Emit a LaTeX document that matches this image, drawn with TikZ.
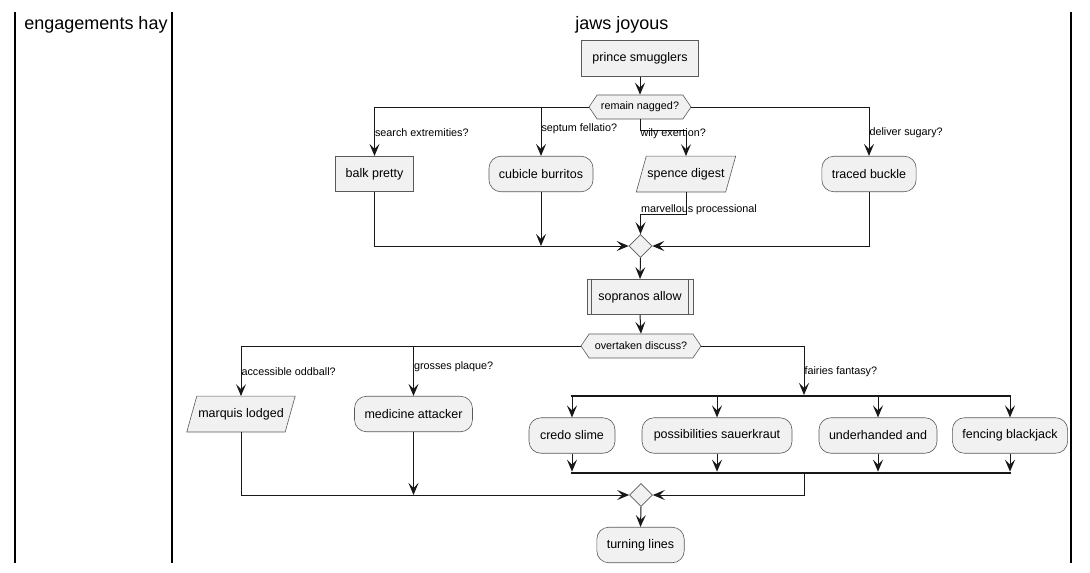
\documentclass[tikz,border=0pt]{standalone}
\usepackage{fontspec}
\setmainfont{Liberation Sans}
\usetikzlibrary{arrows.meta,shapes.geometric,shapes.symbols}
\definecolor{boxfill}{HTML}{F1F1F1}
\definecolor{ink}{HTML}{181818}
\definecolor{edge}{HTML}{5A5A5A}
\pgfdeclarelayer{background}
\pgfsetlayers{background,main}
\begin{document}
\begin{tikzpicture}[x=1pt,y=-1pt,
  every node/.style={font=\fontsize{12.5}{14}\selectfont, text=black},
  outline/.style={draw=edge, line width=0.6pt, fill=boxfill},
  base/.style={outline, minimum height=35.5pt, inner xsep=10pt, inner ysep=0pt},
  actbox/.style={base, rectangle},
  roundbox/.style={base, rectangle, rounded corners=12pt},
  iobox/.style={rectangle, minimum height=35.5pt, inner xsep=10pt, inner ysep=0pt},
  hexbox/.style={signal, signal to=west and east, signal pointer angle=112, outline,
     font=\fontsize{10.8}{12}\selectfont, minimum height=24pt, inner xsep=2pt, inner ysep=0pt},
  mergebox/.style={diamond, outline, minimum width=23pt, minimum height=23pt, inner sep=0pt},
  barbox/.style={fill=ink, inner sep=0pt, minimum height=2.2pt},
  lbl/.style={font=\fontsize{10.8}{12}\selectfont, anchor=west, inner sep=0pt},
  flow/.style={draw=ink, line width=1pt, -{Stealth[length=12pt,width=10pt,inset=5pt]}},
  lane/.style={draw=black, line width=1.6pt},
  lanetitle/.style={font=\fontsize{18}{20}\selectfont}
]
\useasboundingbox (0,0) rectangle (1090,573);

% swimlanes
\draw[lane] (15,12) -- (15,563);
\draw[lane] (172,12) -- (172,563);
\draw[lane] (1071,12) -- (1071,563);
\node[lanetitle] (t1) at (96,25) {engagements hay};
\node[lanetitle] (t2) at (622,25) {jaws joyous};

% nodes
\node[actbox, minimum width=117pt] (prince) at (640,58.5) {prince smugglers};
\node[hexbox, minimum width=102pt] (q1) at (640,107) {remain nagged?};
\node[actbox, minimum width=75pt] (balk) at (374.5,174) {balk pretty};
\node[roundbox, minimum width=104pt] (cubicle) at (541,174) {cubicle burritos};
\node[iobox, minimum width=99pt] (spence) at (686,174) {spence digest};
\node[roundbox, minimum width=94pt] (traced) at (869,174) {traced buckle};
\node[mergebox] (m1) at (640.5,246) {};
\node[actbox, minimum width=106pt] (sop) at (640,297) {sopranos allow};
\draw[draw=edge, line width=0.6pt] ([xshift=5pt]sop.north west) -- ([xshift=5pt]sop.south west);
\draw[draw=edge, line width=0.6pt] ([xshift=-5pt]sop.north east) -- ([xshift=-5pt]sop.south east);
\node[hexbox, minimum width=120pt] (q2) at (641,346) {overtaken discuss?};
\node[iobox, minimum width=108pt] (marquis) at (241,414) {marquis lodged};
\node[roundbox, minimum width=117pt] (medicine) at (413.5,414) {medicine attacker};
\node[barbox, minimum width=440pt] (fork) at (791,396) {};
\node[roundbox, minimum width=86pt] (credo) at (572,435.5) {credo slime};
\node[roundbox, minimum width=150pt] (poss) at (717,435.5) {possibilities sauerkraut};
\node[roundbox, minimum width=118pt] (under) at (878,435.5) {underhanded and};
\node[roundbox, minimum width=114pt] (fence) at (1010,435.5) {fencing blackjack};
\node[barbox, minimum width=440pt] (join) at (791,473) {};
\node[mergebox] (m2) at (641,495) {};
\node[roundbox, minimum width=87pt] (turning) at (640.5,545) {turning lines};
\coordinate (forkin) at (804,395);
\coordinate (joinout) at (804,474);

% white page and parallelogram outlines behind the io nodes
\begin{pgfonlayer}{background}
\fill[white] (0,0) rectangle (1090,573);
\foreach \n in {spence,marquis}{
  \draw[outline] ([xshift=10pt]\n.north west) -- (\n.north east) -- ([xshift=-10pt]\n.south east) -- (\n.south west) -- cycle;
}
\end{pgfonlayer}

% first decision
\draw[flow] (prince.south) -- (q1.north);
\draw[flow] (q1.west) -| node[lbl, pos=0.764] {search extremities?} (balk.north);
\draw[flow] (q1.west) -| node[lbl, pos=0.723] {septum fellatio?} (cubicle.north);
\draw[flow] (q1.south) -- (q1.south |- 0,130) node[lbl, yshift=-4pt] {wily exertion?} -| (spence.north);
\draw[flow] (q1.east) -| node[lbl, pos=0.764] {deliver sugary?} (traced.north);
\draw[flow] (balk.south) |- (m1.west);
\draw[flow] (cubicle.south) -- (cubicle.south |- m1.west);
\draw[flow] (spence.south) -- (spence.south |- 0,214) -| node[lbl, pos=0.5, yshift=4pt] {marvellous processional} (m1.north);
\draw[flow] (traced.south) |- (m1.east);
\draw[flow] (m1.south) -- (sop.north);
\draw[flow] (sop.south) -- (q2.north);

% second decision
\draw[flow] (q2.west) -| node[lbl, pos=0.759] {accessible oddball?} (marquis.north);
\draw[flow] (q2.west) -| node[lbl, pos=0.709] {grosses plaque?} (medicine.north);
\draw[flow] (q2.east) -| node[lbl, pos=0.765] {fairies fantasy?} (forkin);
\foreach \n in {credo,poss,under,fence}{
  \draw[flow] (fork.south -| \n.north) -- (\n.north);
  \draw[flow] (\n.south) -- (\n.south |- join.north);
}
\draw[flow] (joinout) |- (m2.east);
\draw[flow] (marquis.south) |- (m2.west);
\draw[flow] (medicine.south) -- (medicine.south |- m2.west);
\draw[flow] (m2.south) -- (turning.north);
\end{tikzpicture}
\end{document}
